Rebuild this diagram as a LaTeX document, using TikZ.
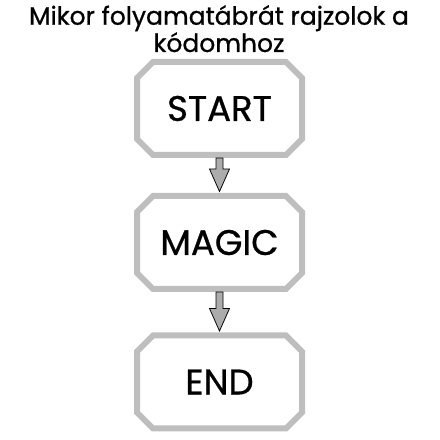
\documentclass[tikz,border=0pt]{standalone}
\usepackage{fontspec}
\setmainfont{Poppins}[FakeBold=0.8]
\newfontfamily\medfont{Poppins}[FakeBold=0.8]
\usepackage{xcolor}
\usetikzlibrary{shapes.misc, calc}
\definecolor{boxgray}{RGB}{190,190,190}
\definecolor{arrgray}{RGB}{172,172,172}
\tikzset{
  box/.style={draw=boxgray, line width=6pt, chamfered rectangle, chamfered rectangle xsep=8pt, chamfered rectangle ysep=8pt, fill=white, minimum width=165pt, minimum height=93pt, font=\medfont\fontsize{35.5}{40}\selectfont},
  flow/.style={draw=black, line width=0.8pt, fill=arrgray, line join=miter},
  ttl/.style={align=center, font=\medfont\fontsize{25}{25.7}\selectfont, inner sep=0pt}
}

\begin{document}
\begin{tikzpicture}[x=1pt, y=1pt]
    \useasboundingbox (0,0) rectangle (440,440);
    \node[ttl, anchor=north] (tt) at (219,435) {Mikor folyamatábrát rajzolok a\\kódomhoz};
    \node[box] (st) at (219.5,331.5) {START};
    \node[box] (mg) at (219.5,197.5) {MAGIC};
    \node[box] (en) at (219.5,58) {END};

    \draw[flow] ([xshift=-3.5pt]st.south) |- ([xshift=-10pt,yshift=24pt]mg.north) -- ([yshift=1.5pt]mg.north) -- ([xshift=10pt,yshift=24pt]mg.north) -| ([xshift=3.5pt]st.south) -- cycle;
    \draw[flow] ([xshift=-3.5pt]mg.south) |- ([xshift=-10pt,yshift=24pt]en.north) -- ([yshift=1.5pt]en.north) -- ([xshift=10pt,yshift=24pt]en.north) -| ([xshift=3.5pt]mg.south) -- cycle;
\end{tikzpicture}
\end{document}
